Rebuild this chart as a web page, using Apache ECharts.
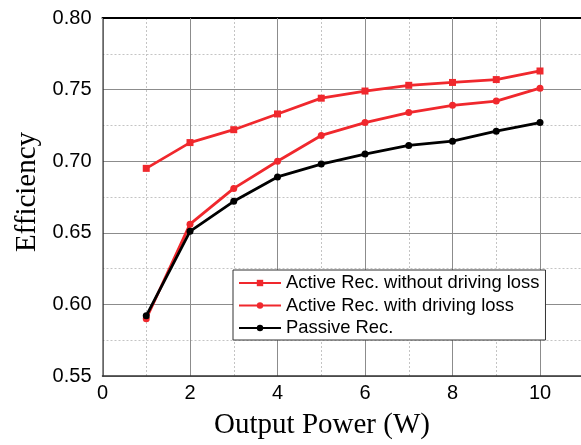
<!DOCTYPE html>
<html>
<head>
<meta charset="utf-8">
<script src="https://cdn.jsdelivr.net/npm/echarts@6/dist/echarts.min.js"></script>
<style>html,body{margin:0;padding:0;background:#fff}#c{width:581px;height:445px}</style>
</head>
<body>
<div id="c"></div>
<script>
const outputPower = [1, 2, 3, 4, 5, 6, 7, 8, 9, 10];
const activeNoLoss = [0.695, 0.713, 0.722, 0.733, 0.744, 0.749, 0.753, 0.755, 0.757, 0.763];
const activeWithLoss = [0.590, 0.656, 0.681, 0.700, 0.718, 0.727, 0.734, 0.739, 0.742, 0.751];
const passive = [0.592, 0.651, 0.672, 0.689, 0.698, 0.705, 0.711, 0.714, 0.721, 0.727];
const seriesNames = ['Active Rec. without driving loss', 'Active Rec. with driving loss', 'Passive Rec.'];
const xTitle = 'Output Power (W)';
const yTitle = 'Efficiency';

const pairs = arr => outputPower.map((x, i) => [x, arr[i]]);
const RED = '#f0282d';

const chart = echarts.init(document.getElementById('c'), null, {renderer: 'canvas'});
chart.setOption({
  animation: false,
  backgroundColor: '#fff',
  grid: {left: 102.5, top: 18, bottom: 69, right: -46.5, containLabel: false, outerBoundsMode: 'none'},
  xAxis: [{
    type: 'value', position: 'bottom', min: 0, max: 12, interval: 2,
    axisLine: {show: true, onZero: false, lineStyle: {color: '#333', width: 1.5}},
    axisTick: {show: false},
    axisLabel: {fontFamily: 'Liberation Sans, Arial', fontSize: 20, color: '#000', margin: 7,
      formatter: v => (v > 10 ? '' : String(v))},
    splitLine: {show: true, lineStyle: {color: '#8c8c8c', width: 1}},
    z: 2
  }, {
    type: 'value', position: 'top', min: 0, max: 12, interval: 1,
    axisLine: {show: true, onZero: false, lineStyle: {color: '#000', width: 2}},
    axisTick: {show: false}, axisLabel: {show: false},
    splitLine: {show: true, lineStyle: {color: ['rgba(0,0,0,0)', '#c4c4c4'], type: [2, 2], width: 1}},
    z: 1
  }],
  yAxis: {
    type: 'value', min: 0.55, max: 0.80, interval: 0.05,
    axisLine: {show: true, onZero: false, lineStyle: {color: '#333', width: 1.5}},
    axisTick: {show: false},
    axisLabel: {fontFamily: 'Liberation Sans, Arial', fontSize: 20, color: '#000', margin: 11,
      formatter: v => v.toFixed(2)},
    splitLine: {show: true, lineStyle: {color: '#8c8c8c', width: 1}},
    minorTick: {show: false, splitNumber: 2},
    minorSplitLine: {show: true, lineStyle: {color: '#c4c4c4', type: [2, 2], width: 1}}
  },
  legend: {
    orient: 'vertical', left: 233, top: 270,
    backgroundColor: '#fff', borderColor: '#333', borderWidth: 1,
    padding: [3, 6, 2, 5], itemGap: 2.5, itemWidth: 42, itemHeight: 8,
    textStyle: {fontFamily: 'Liberation Sans, Arial', fontSize: 18.4, color: '#000', lineHeight: 20, padding: [0, 0, 0, 0]},
    data: seriesNames
  },
  graphic: [
    {type: 'text', x: 27, y: 192, rotation: Math.PI / 2,
      style: {text: yTitle, font: '29px "Liberation Serif", "Times New Roman", serif', fill: '#000', align: 'center', verticalAlign: 'middle'}},
    {type: 'text', x: 322, y: 425,
      style: {text: xTitle, font: '29px "Liberation Serif", "Times New Roman", serif', fill: '#000', align: 'center', verticalAlign: 'middle'}}
  ],
  series: [
    {name: seriesNames[0], type: 'line', data: pairs(activeNoLoss), symbol: 'rect', symbolSize: 7,
      itemStyle: {color: RED}, lineStyle: {color: RED, width: 2.8}, z: 3},
    {name: seriesNames[1], type: 'line', data: pairs(activeWithLoss), symbol: 'circle', symbolSize: 7,
      itemStyle: {color: RED}, lineStyle: {color: RED, width: 2.8}, z: 3},
    {name: seriesNames[2], type: 'line', data: pairs(passive), symbol: 'circle', symbolSize: 7,
      itemStyle: {color: '#000'}, lineStyle: {color: '#000', width: 2.8}, z: 4}
  ]
});
</script>
</body>
</html>
